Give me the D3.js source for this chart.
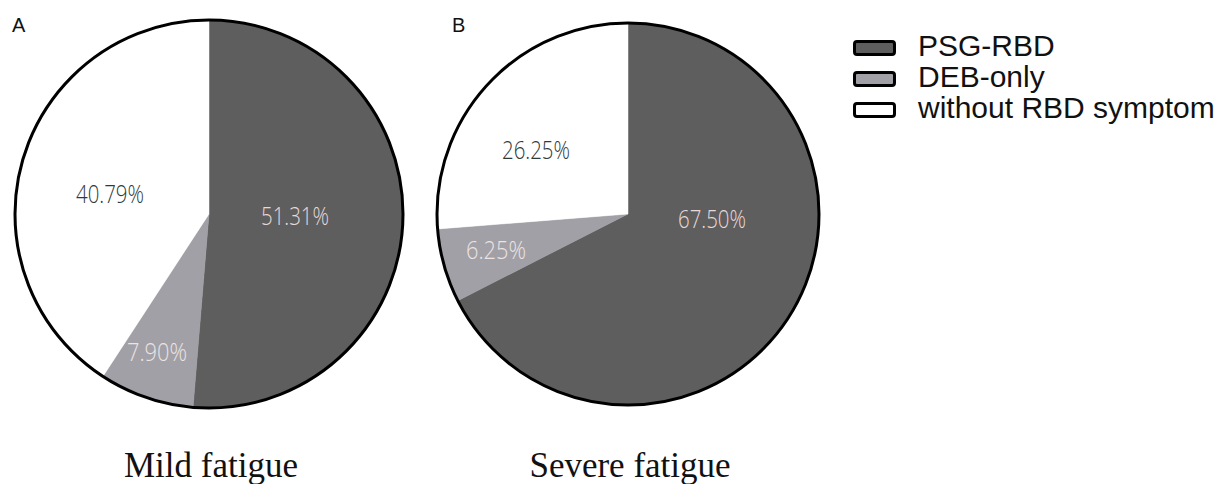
<!DOCTYPE html>
<html>
<head>
<meta charset="utf-8">
<script src="https://cdn.jsdelivr.net/npm/d3@7"></script>
<style>
  html, body { margin: 0; padding: 0; background: #ffffff; }
  svg { display: block; }
</style>
</head>
<body>
<svg id="chart" width="1218" height="484"></svg>
<script>
// ---- data ----
const categories = ["PSG-RBD", "DEB-only", "without RBD symptom"];
const panels = ["A", "B"];
const panelTitles = ["Mild fatigue", "Severe fatigue"];
const mildValues = [51.31, 7.90, 40.79];
const severeValues = [67.50, 6.25, 26.25];

// ---- layout / style ----
const fills = ["#5e5e5e", "#a0a0a6", "#ffffff"];
const labelColors = ["#e8d8d8", "#eee2e2", "#2e3a3a"];
const pieLayout = [
  { cx: 209, cy: 214, r: 194, letterX: 12, labelOffsets: [[86, 1], [-52, 137], [-99, -21]] },
  { cx: 628, cy: 214, r: 191, letterX: 452, labelOffsets: [[84, 4], [-132, 35], [-92, -65]] }
];

const svg = d3.select("#chart");
const color = d3.scaleOrdinal().domain(categories).range(fills);
const labelColor = d3.scaleOrdinal().domain(categories).range(labelColors);

const pie = d3.pie().sort(null).value(d => d.value);

[mildValues, severeValues].forEach((vals, pi) => {
  const L = pieLayout[pi];
  const data = categories.map((c, i) => ({ cat: c, value: vals[i] }));
  const arcs = pie(data);
  const arc = d3.arc().innerRadius(0).outerRadius(L.r);
  const g = svg.append("g").attr("transform", `translate(${L.cx},${L.cy})`);

  g.selectAll("path.slice")
    .data(arcs)
    .join("path")
    .attr("class", "slice")
    .attr("d", arc)
    .attr("fill", d => color(d.data.cat))
    .attr("stroke", d => color(d.data.cat))
    .attr("stroke-width", 0.5);

  g.append("circle")
    .attr("r", L.r)
    .attr("fill", "none")
    .attr("stroke", "#000")
    .attr("stroke-width", 3);

  g.selectAll("text.lbl")
    .data(arcs)
    .join("text")
    .attr("class", "lbl")
    .attr("x", (d, i) => L.labelOffsets[i][0])
    .attr("y", (d, i) => L.labelOffsets[i][1])
    .attr("text-anchor", "middle")
    .attr("dominant-baseline", "central")
    .attr("font-family", "'Open Sans', sans-serif")
    .attr("font-weight", 300)
    .attr("font-size", 25)
    .attr("textLength", d => d.data.value >= 10 ? 68 : 60)
    .attr("lengthAdjust", "spacingAndGlyphs")
    .attr("fill", d => labelColor(d.data.cat))
    .text(d => d.data.value.toFixed(2) + "%");

  svg.append("text")
    .attr("x", L.letterX)
    .attr("y", 32)
    .attr("font-family", "'Liberation Sans', Arial, sans-serif")
    .attr("font-size", 20)
    .attr("font-weight", 500)
    .attr("fill", "#111")
    .text(panels[pi]);

  svg.append("text")
    .attr("x", L.cx + 2)
    .attr("y", 477)
    .attr("text-anchor", "middle")
    .attr("font-family", "'Liberation Serif', 'Times New Roman', serif")
    .attr("font-size", 35)
    .attr("fill", "#111")
    .text(panelTitles[pi]);
});

// ---- legend ----
const legend = svg.append("g").attr("transform", "translate(853,0)");
const legY = d3.scalePoint().domain(categories).range([56, 118]);
const items = legend.selectAll("g.item").data(categories).join("g")
  .attr("class", "item")
  .attr("transform", d => `translate(0,${legY(d)})`);
items.append("rect")
  .attr("x", 1.5).attr("y", -14.5)
  .attr("width", 40).attr("height", 13)
  .attr("rx", 2.5)
  .attr("fill", d => color(d))
  .attr("stroke", "#000")
  .attr("stroke-width", 3);
items.append("text")
  .attr("x", 65).attr("y", 0)
  .attr("font-family", "'Liberation Sans', Arial, sans-serif")
  .attr("font-size", 30)
  .attr("fill", "#111")
  .text(d => d);
</script>
</body>
</html>
